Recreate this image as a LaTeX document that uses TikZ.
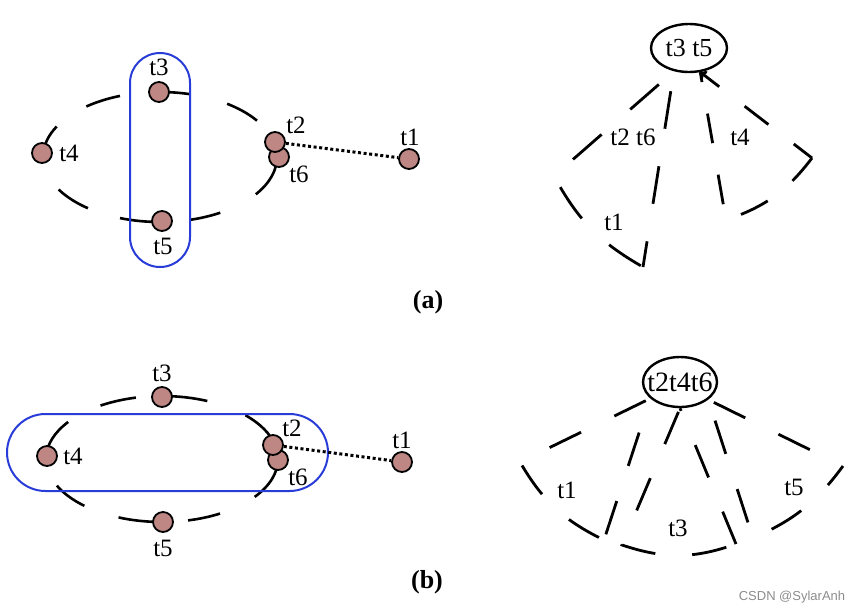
\documentclass[tikz,border=0pt]{standalone}
\usepackage{fontspec}
\setmainfont{Liberation Serif}
\newfontfamily\marksans{Liberation Sans}
\usetikzlibrary{shapes.geometric,arrows.meta}
\definecolor{vfill}{RGB}{190,135,132}
\definecolor{hblue}{RGB}{40,60,215}

\begin{document}
\begin{tikzpicture}[x=1pt,y=1pt,
  vertex/.style={circle,draw,line width=1.8pt,fill=vfill,minimum size=20pt,inner sep=0pt},
  tag/.style={inner sep=0pt,font=\fontsize{25}{25}\selectfont},
  hyper/.style={line width=2.6pt},
  dotlink/.style={line width=3pt,dash pattern=on 3pt off 2.6pt},
  group/.style={draw=hblue,line width=2pt},
  root/.style={ellipse,draw,line width=2.4pt,inner sep=0pt},
  cone a/.style={line width=2.8pt,dash pattern=on 38pt off 38pt},
  cone b/.style={line width=2.8pt,dash pattern=on 30pt off 32pt},
  cone c/.style={line width=2.8pt,dash pattern=on 35pt off 37pt}]

  \useasboundingbox (0,0) rectangle (858,-614);

  % (a) hypergraph
  \coordinate (ca) at (160,-157);
 \draw[hyper] ([shift={(34:117 and 65)}]ca) arc (34:55:117 and 65);
 \draw[hyper] ([shift={(75:117 and 65)}]ca) arc (75:90:117 and 65);
 \draw[hyper] ([shift={(110:117 and 65)}]ca) arc (110:129:117 and 65);
 \draw[hyper] ([shift={(152:117 and 65)}]ca) arc (152:178:117 and 65);
 \draw[hyper] ([shift={(210:117 and 65)}]ca) arc (210:232:117 and 65);
 \draw[hyper] ([shift={(250:117 and 65)}]ca) arc (250:270:117 and 65);
 \draw[hyper] ([shift={(285:117 and 65)}]ca) arc (285:301:117 and 65);
 \draw[hyper] ([shift={(325:117 and 65)}]ca) arc (325:360:117 and 65);
 \draw[group,rounded corners=30pt] (130,-53) rectangle (190,-267);

  \node[vertex] (a3) at (159,-92) {};
  \node[vertex] (a4) at (42,-153) {};
  \node[vertex] (a5) at (162,-221) {};
  \node[vertex] (a6) at (279,-157) {};
  \node[vertex] (a2) at (275,-142) {};
  \node[vertex] (a1) at (409,-159) {};
  \node[tag] (la3) at (159,-67) {t3};
  \node[tag] (la4) at (69,-153) {t4};
  \node[tag] (la5) at (163,-246) {t5};
  \node[tag] (la2) at (296,-125) {t2};
  \node[tag] (la6) at (299,-174) {t6};
  \node[tag] (la1) at (410,-137) {t1};
 \path[] (a2) [dotlink] edge (a1);

  % (a) tree
  \node[root,minimum width=76pt,minimum height=48pt,font=\fontsize{26}{26}\selectfont] (r1) at (689,-48) {t3 t5};
  \coordinate (aL) at (554,-176);
  \coordinate (aB) at (643,-267);
  \coordinate (aR) at (812,-158);
  \coordinate (aQ) at (726,-220);
 \draw[cone a,dash phase=56pt] (r1.237) -- (aL) to[bend right=16] (aB);
 \draw[cone a,dash phase=12pt] (aB) -- (r1.237);
 \draw[cone b] (aR) to[bend left=17] (aQ) -- (r1.295);
 \draw[cone b,dash phase=7pt,-{To[length=6pt,width=10pt]}] (aR) -- (r1.295);
  \node[tag] (ta26) at (633,-137) {t2 t6};
  \node[tag] (ta1) at (614,-222) {t1};
  \node[tag] (ta4) at (740,-137) {t4};

  \node[inner sep=0pt,font=\fontsize{26}{26}\selectfont\bfseries] (capa) at (428,-302) {(a)};

  % (b) hypergraph
  \coordinate (cb) at (162,-459);
 \draw[hyper] ([shift={(13:116 and 63)}]cb) arc (13:44:116 and 63);
 \draw[hyper] ([shift={(67:116 and 63)}]cb) arc (67:90:116 and 63);
 \draw[hyper] ([shift={(103:116 and 63)}]cb) arc (103:122:116 and 63);
 \draw[hyper] ([shift={(144:116 and 63)}]cb) arc (144:178:116 and 63);
 \draw[hyper] ([shift={(205:116 and 63)}]cb) arc (205:228:116 and 63);
 \draw[hyper] ([shift={(248:116 and 63)}]cb) arc (248:270:116 and 63);
 \draw[hyper] ([shift={(283:116 and 63)}]cb) arc (283:300:116 and 63);
 \draw[hyper] ([shift={(323:116 and 63)}]cb) arc (323:360:116 and 63);
 \draw[group,rounded corners=38.5pt] (7,-414) rectangle (328,-491);

  \node[vertex] (b3) at (162,-397) {};
  \node[vertex] (b4) at (47,-456) {};
  \node[vertex] (b5) at (163,-522) {};
  \node[vertex] (b6) at (278,-460) {};
  \node[vertex] (b2) at (273,-445) {};
  \node[vertex] (b1) at (402,-462) {};
  \node[tag] (lb3) at (162,-373) {t3};
  \node[tag] (lb4) at (73,-456) {t4};
  \node[tag] (lb5) at (163,-548) {t5};
  \node[tag] (lb2) at (292,-428) {t2};
  \node[tag] (lb6) at (298,-477) {t6};
  \node[tag] (lb1) at (402,-440) {t1};
 \path[] (b2) [dotlink] edge (b1);

  % (b) tree
  \node[root,minimum width=74pt,minimum height=50pt,font=\fontsize{28}{28}\selectfont] (r2) at (680,-382) {\makebox[0pt]{t2t4t6}};
  \coordinate (bL1) at (520,-462);
  \coordinate (bL2) at (604,-540);
  \coordinate (bM1) at (622,-545);
  \coordinate (bM2) at (736,-544);
  \coordinate (bR1) at (753,-538);
  \coordinate (bR2) at (843,-466);
 \draw[cone c,dash phase=67pt] (r2.209) -- (bL1) to[bend right=17] (bL2);
 \draw[cone c,dash phase=66pt] (bL2) -- (r2.209);
 \draw[cone c,dash phase=68pt] (r2.south) -- (bM1) to[bend right=19] (bM2);
 \draw[cone c] (bM2) -- (r2.south);
 \draw[cone c,dash phase=50pt] (r2.328) -- (bR1) to[bend right=15] (bR2);
 \draw[cone c,dash phase=35pt] (bR2) -- (r2.328);
  \node[tag] (tb1) at (567,-490) {t1};
  \node[tag] (tb3) at (678,-528) {t3};
  \node[tag] (tb5) at (794,-487) {t5};

  \node[inner sep=0pt,font=\fontsize{26}{26}\selectfont\bfseries] (capb) at (427,-582) {(b)};

  \node[inner sep=0pt,text=black!45,font=\marksans\fontsize{13}{13}\selectfont] (mark) at (792,-597) {CSDN @SylarAnh};
\end{tikzpicture}
\end{document}
